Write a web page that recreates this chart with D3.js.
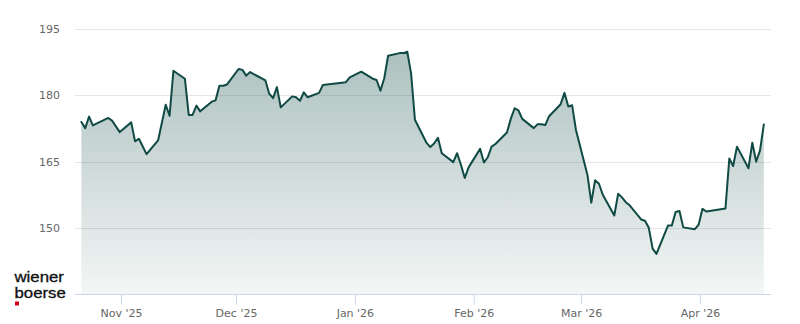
<!DOCTYPE html>
<html>
<head>
<meta charset="utf-8">
<script src="https://cdn.jsdelivr.net/npm/d3@7"></script>
<style>
  html, body { margin: 0; padding: 0; background: #ffffff; }
  svg { display: block; }
</style>
</head>
<body>
<svg id="chart" width="800" height="324"></svg>
<script>
// ---- data (trading days, closing prices) ----
const dates = [
  "2025-10-21","2025-10-22","2025-10-23","2025-10-24","2025-10-28","2025-10-29","2025-10-31",
  "2025-11-03","2025-11-04","2025-11-05","2025-11-07","2025-11-10","2025-11-12","2025-11-13","2025-11-14",
  "2025-11-17","2025-11-18","2025-11-19","2025-11-20","2025-11-21","2025-11-24","2025-11-25","2025-11-26",
  "2025-11-27","2025-11-28",
  "2025-12-01","2025-12-02","2025-12-03","2025-12-04","2025-12-08","2025-12-09","2025-12-10","2025-12-11",
  "2025-12-12","2025-12-15","2025-12-16","2025-12-17","2025-12-18","2025-12-19","2025-12-22","2025-12-23",
  "2025-12-29","2025-12-30",
  "2026-01-02","2026-01-05","2026-01-06","2026-01-07","2026-01-08","2026-01-09","2026-01-12","2026-01-13",
  "2026-01-14","2026-01-15","2026-01-16","2026-01-19","2026-01-20","2026-01-21","2026-01-22","2026-01-23",
  "2026-01-26","2026-01-27","2026-01-28","2026-01-29","2026-01-30",
  "2026-02-02","2026-02-03","2026-02-04","2026-02-05","2026-02-06","2026-02-09","2026-02-10","2026-02-11",
  "2026-02-12","2026-02-13","2026-02-16","2026-02-17","2026-02-18","2026-02-19","2026-02-20","2026-02-23",
  "2026-02-24","2026-02-25","2026-02-26","2026-02-27",
  "2026-03-02","2026-03-03","2026-03-04","2026-03-05","2026-03-06","2026-03-09","2026-03-10","2026-03-11",
  "2026-03-12","2026-03-13","2026-03-16","2026-03-17","2026-03-18","2026-03-19","2026-03-20","2026-03-23",
  "2026-03-24","2026-03-25","2026-03-26","2026-03-27","2026-03-30","2026-03-31",
  "2026-04-01","2026-04-02","2026-04-07","2026-04-08","2026-04-09","2026-04-10","2026-04-13","2026-04-14",
  "2026-04-15","2026-04-16","2026-04-17"
];
const prices = [
  174.0,172.6,175.2,173.2,174.9,174.3,171.7,
  173.9,169.6,170.2,166.7,169.8,177.9,175.4,185.6,
  183.8,175.6,175.6,177.7,176.4,178.6,178.9,182.2,
  182.2,182.5,
  186.0,185.8,184.5,185.3,183.4,180.4,179.4,181.9,
  177.3,179.8,179.6,178.8,180.7,179.6,180.6,182.4,
  183.0,184.1,
  185.4,183.8,183.5,181.1,183.9,189.0,189.6,189.6,
  189.9,185.0,174.5,169.3,168.3,169.1,170.4,166.9,
  164.9,166.9,164.3,161.3,163.7,
  167.9,164.8,166.0,168.4,169.0,171.6,174.7,177.1,
  176.6,174.7,172.6,173.5,173.5,173.3,175.3,178.0,
  180.6,177.5,177.8,172.2,
  162.0,155.7,160.8,160.0,157.5,152.8,157.7,156.9,
  155.8,155.1,151.9,151.6,150.0,145.3,144.1,150.5,
  150.5,153.6,153.8,150.1,149.7,150.7,
  154.3,153.7,154.4,165.7,164.0,168.4,163.5,169.3,
  165.0,167.5,173.4
];
const yTicks = [150, 165, 180, 195];
const xTickDates = ["2025-11-01","2025-12-01","2026-01-01","2026-02-01","2026-03-01","2026-04-01"];
const xTickLabels = ["Nov '25","Dec '25","Jan '26","Feb '26","Mar '26","Apr '26"];
const closeTime = "T16:00:00Z"; // timestamps at market close
const logoLines = ["wiener", "boerse"];

// ---- build ----
const parseTs = d3.utcParse("%Y-%m-%dT%H:%M:%SZ");
const parseDay = d3.utcParse("%Y-%m-%d");
const series = dates.map((d, i) => ({ t: parseTs(d + closeTime), v: prices[i] }));

const svg = d3.select("#chart");
const plot = { left: 75, right: 771, top: 29.3, bottom: 294 };

const x = d3.scaleUtc()
  .domain([parseDay("2025-10-20"), parseTs("2026-04-19T13:00:00Z")])
  .range([plot.left, plot.right]);
const y = d3.scaleLinear().domain([135, 195]).range([plot.bottom, plot.top]);

const lineColor = "#0f4a44";

// gradient
const defs = svg.append("defs");
const grad = defs.append("linearGradient")
  .attr("id", "areaGrad")
  .attr("gradientUnits", "userSpaceOnUse")
  .attr("x1", 0).attr("x2", 0)
  .attr("y1", plot.top).attr("y2", plot.bottom);
grad.append("stop").attr("offset", "0%").attr("stop-color", lineColor).attr("stop-opacity", 0.37);
grad.append("stop").attr("offset", "100%").attr("stop-color", lineColor).attr("stop-opacity", 0.05);

// gridlines
svg.append("g")
  .selectAll("line")
  .data(yTicks)
  .join("line")
  .attr("x1", plot.left).attr("x2", plot.right)
  .attr("y1", d => Math.round(y(d)) + 0.5).attr("y2", d => Math.round(y(d)) + 0.5)
  .attr("stroke", "#e6e6e6").attr("stroke-width", 1);

// y labels
svg.append("g")
  .selectAll("text")
  .data(yTicks)
  .join("text")
  .attr("x", 60)
  .attr("y", d => y(d) + 4)
  .attr("text-anchor", "end")
  .attr("font-family", "DejaVu Sans, sans-serif")
  .attr("font-size", 11)
  .attr("fill", "#666666")
  .text(d => d);

// area + line
const area = d3.area().x(d => x(d.t)).y0(plot.bottom).y1(d => y(d.v));
const line = d3.line().x(d => x(d.t)).y(d => y(d.v));

svg.append("path").datum(series)
  .attr("d", area)
  .attr("fill", "url(#areaGrad)");

svg.append("path").datum(series)
  .attr("d", line)
  .attr("fill", "none")
  .attr("stroke", lineColor)
  .attr("stroke-width", 2)
  .attr("stroke-linejoin", "round")
  .attr("stroke-linecap", "round");

// x axis
const xAxis = d3.axisBottom(x)
  .tickValues(xTickDates.map(parseDay))
  .tickFormat((d, i) => xTickLabels[i])
  .tickSizeOuter(0)
  .tickSizeInner(10)
  .tickPadding(5);

const gx = svg.append("g")
  .attr("transform", `translate(0,${plot.bottom + 0.5})`)
  .call(xAxis);
gx.select(".domain").attr("stroke", "#ccd6eb").attr("d", `M${plot.left},0H${plot.right}`);
gx.selectAll(".tick line").attr("stroke", "#ccd6eb");
gx.selectAll(".tick text")
  .attr("font-family", "DejaVu Sans, sans-serif")
  .attr("font-size", 11)
  .attr("fill", "#666666");

// logo (wide, compact wordmark)
const logo = svg.append("g");
logo.selectAll("text")
  .data(logoLines)
  .join("text")
  .attr("transform", (d, i) => `translate(14.5,${281.5 + i * 16}) scale(1.2,1)`)
  .attr("font-family", "Liberation Sans, Arial, sans-serif")
  .attr("font-size", 14)
  .attr("fill", "#111111")
  .attr("stroke", "#111111")
  .attr("stroke-width", 0.3)
  .text(d => d);
logo.append("rect")
  .attr("x", 15).attr("y", 301.5)
  .attr("width", 4).attr("height", 4)
  .attr("fill", "#d0021b");
</script>
</body>
</html>
